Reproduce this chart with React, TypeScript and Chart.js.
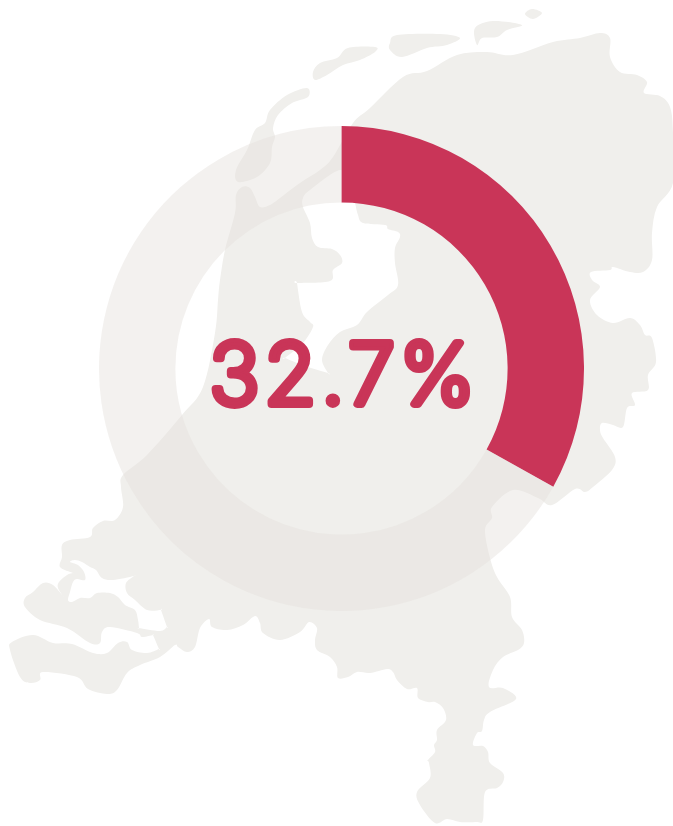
import React, { useEffect, useRef } from "react";
import { Chart, registerables } from "chart.js";

Chart.register(...registerables);

const categories = ["Share", "Rest"];
const seriesValues = [33.1, 66.9];
const centerLabel = "32.7%";
const sliceColors = ["#c93558", "rgba(228,225,220,0.46)"];
const textColor = "#c93558";
const mapColor = "#f0efec";

type P = number[];

const mainland: P[] = [
  [333,157],[353,123],[370,108],[403,77],[427,71],[457,55],[487,52],[513,55],[553,42],[580,38],[600,33],[610,38],[610,57],[620,72],[637,75],[647,82],[644,93],[660,96],[670,107],[673,133],[673,183],[657,207],[652,233],[652,260],[643,272],[630,272],[613,267],[610,270],[591,272],[592,280],[600,287],[590,300],[597,315],[613,323],[630,318],[640,325],[645,335],[652,338],[656,362],[648,375],[648,390],[632,393],[635,405],[627,408],[623,427],[613,425],[602,423],[600,430],[603,438],[615,457],[612,470],[593,487],[585,492],[575,489],[552,505],[538,498],[513,490],[492,507],[492,518],[485,530],[490,558],[497,577],[510,597],[512,617],[522,630],[524,643],[518,650],[503,657],[493,670],[489,687],[503,688],[516,699],[490,712],[484,720],[482,731],[477,733],[473,745],[483,746],[488,752],[490,763],[503,773],[503,782],[497,788],[485,792],[483,820],[477,822],[460,822],[447,819],[435,823],[420,805],[417,792],[430,778],[429,763],[428,760],[435,752],[434,745],[437,740],[437,730],[446,720],[443,708],[435,702],[428,702],[418,698],[417,688],[407,689],[397,680],[393,672],[387,669],[370,673],[357,672],[348,677],[338,678],[337,667],[330,657],[317,650],[315,640],[317,628],[309,622],[300,632],[280,640],[263,633],[260,623],[255,616],[243,625],[227,630],[212,627],[209,619],[200,628],[195,647],[187,652],[178,647],[175,645],[160,657],[140,665],[127,673],[117,690],[107,694],[88,689],[77,677],[43,672],[40,680],[30,683],[20,677],[10,650],[12,642],[33,635],[53,643],[72,644],[93,653],[107,653],[118,643],[127,642],[132,650],[147,653],[159,649],[159,649],[153,635],[153,635],[142,637],[137,633],[110,627],[102,632],[100,643],[90,643],[67,628],[40,620],[25,607],[25,598],[33,592],[43,583],[53,585],[63,596],[63,596],[58,588],[59,582],[67,575],[73,573],[73,573],[60,567],[62,557],[62,545],[70,540],[90,537],[93,528],[103,521],[115,520],[123,507],[121,487],[123,475],[147,455],[182,415],[203,387],[215,333],[218,300],[220,280],[225,250],[235,213],[236,195],[242,187],[250,188],[255,197],[260,207],[270,205],[280,198],[300,183],[320,170],
];
const gulf: P[] = [
  [70,562],[75,560],[82,562],[90,567],[96,570],[102,578],[113,580],[134,576],[134,576],[126,583],[127,593],[135,600],[147,610],[161,610],[161,610],[167,627],[167,627],[160,631],[139,628],[139,628],[138,620],[135,610],[125,605],[118,597],[110,593],[97,593],[90,598],[80,598],[72,602],[68,600],[70,592],[73,582],[77,579],[85,580],[84,572],[78,565],
];
const ijsselmeer: P[] = [
  [303,207],[303,198],[310,190],[340,170],[350,185],[355,203],[358,215],[363,223],[385,225],[388,229],[398,232],[400,237],[395,248],[395,263],[398,285],[388,295],[367,312],[357,325],[340,332],[328,345],[322,360],[328,373],[328,373],[305,366],[285,358],[285,358],[303,343],[313,327],[310,322],[302,312],[297,283],[297,283],[330,281],[333,270],[342,263],[340,255],[332,249],[318,247],[312,238],[310,223],
];
const islands: P[][] = [
  [[307,88],[308,97],[292,103],[278,115],[273,128],[275,137],[272,147],[270,163],[257,177],[238,182],[236,170],[247,150],[255,130],[265,123],[270,110],[287,95]],
  [[313,72],[320,63],[337,58],[348,48],[375,47],[375,52],[360,60],[343,65],[327,75],[315,80]],
  [[390,50],[390,43],[397,35],[440,34],[460,38],[447,45],[427,48],[402,57]],
  [[475,28],[493,21],[522,25],[507,30],[497,37],[482,38],[477,45]],
  [[525,14],[532,9],[542,13],[533,19]],
];

function smooth(pts: P[]): string {
  const n = pts.length;
  let d = `M${pts[0][0]} ${pts[0][1]}`;
  for (let i = 0; i < n; i++) {
    const p0 = pts[(i - 1 + n) % n];
    const p1 = pts[i];
    const p2 = pts[(i + 1) % n];
    const p3 = pts[(i + 2) % n];
    const c1x = p1[0] + (p2[0] - p0[0]) / 6;
    const c1y = p1[1] + (p2[1] - p0[1]) / 6;
    const c2x = p2[0] - (p3[0] - p1[0]) / 6;
    const c2y = p2[1] - (p3[1] - p1[1]) / 6;
    d += `C${c1x.toFixed(1)} ${c1y.toFixed(1)} ${c2x.toFixed(1)} ${c2y.toFixed(1)} ${p2[0]} ${p2[1]}`;
  }
  return d + "Z";
}

const mapPath = [mainland, gulf, ijsselmeer, ...islands].map(smooth).join(" ");

export default function App() {
  const ref = useRef<HTMLCanvasElement>(null);
  useEffect(() => {
    document.body.style.margin = "0";
    document.body.style.background = "#ffffff";
    const centerText = {
      id: "centerText",
      afterDraw(chart: any) {
        const { ctx } = chart;
        const arc = chart.getDatasetMeta(0).data[0];
        ctx.save();
        ctx.font = '200 84px "Inter"';
        ctx.letterSpacing = "5px";
        ctx.textAlign = "center";
        ctx.textBaseline = "alphabetic";
        ctx.fillStyle = textColor;
        ctx.strokeStyle = textColor;
        ctx.lineWidth = 8;
        ctx.lineJoin = "round";
        ctx.lineCap = "round";
        const x = arc.x + 3;
        const y = arc.y + 35;
        ctx.strokeText(centerLabel, x, y);
        ctx.fillText(centerLabel, x, y);
        ctx.restore();
      },
    };
    const chart = new Chart(ref.current!, {
      type: "doughnut",
      data: {
        labels: categories,
        datasets: [
          {
            data: seriesValues,
            backgroundColor: sliceColors,
            borderWidth: 0,
            hoverOffset: 0,
          },
        ],
      },
      options: {
        animation: false,
        responsive: false,
        cutout: "68.5%",
        rotation: 0,
        layout: { padding: 0 },
        plugins: { legend: { display: false }, tooltip: { enabled: false } },
      },
      plugins: [centerText],
    });
    return () => chart.destroy();
  }, []);
  return (
    <div style={{ position: "absolute", left: 0, top: 0, width: 673, height: 826, overflow: "hidden", background: "#fff" }}>
      <svg width={673} height={826} style={{ position: "absolute", left: 0, top: 0 }}>
        <path d={mapPath} fill={mapColor} fillRule="evenodd" />
      </svg>
      <canvas ref={ref} width={485} height={485} style={{ position: "absolute", left: 99, top: 126, width: 485, height: 485 }} />
    </div>
  );
}
